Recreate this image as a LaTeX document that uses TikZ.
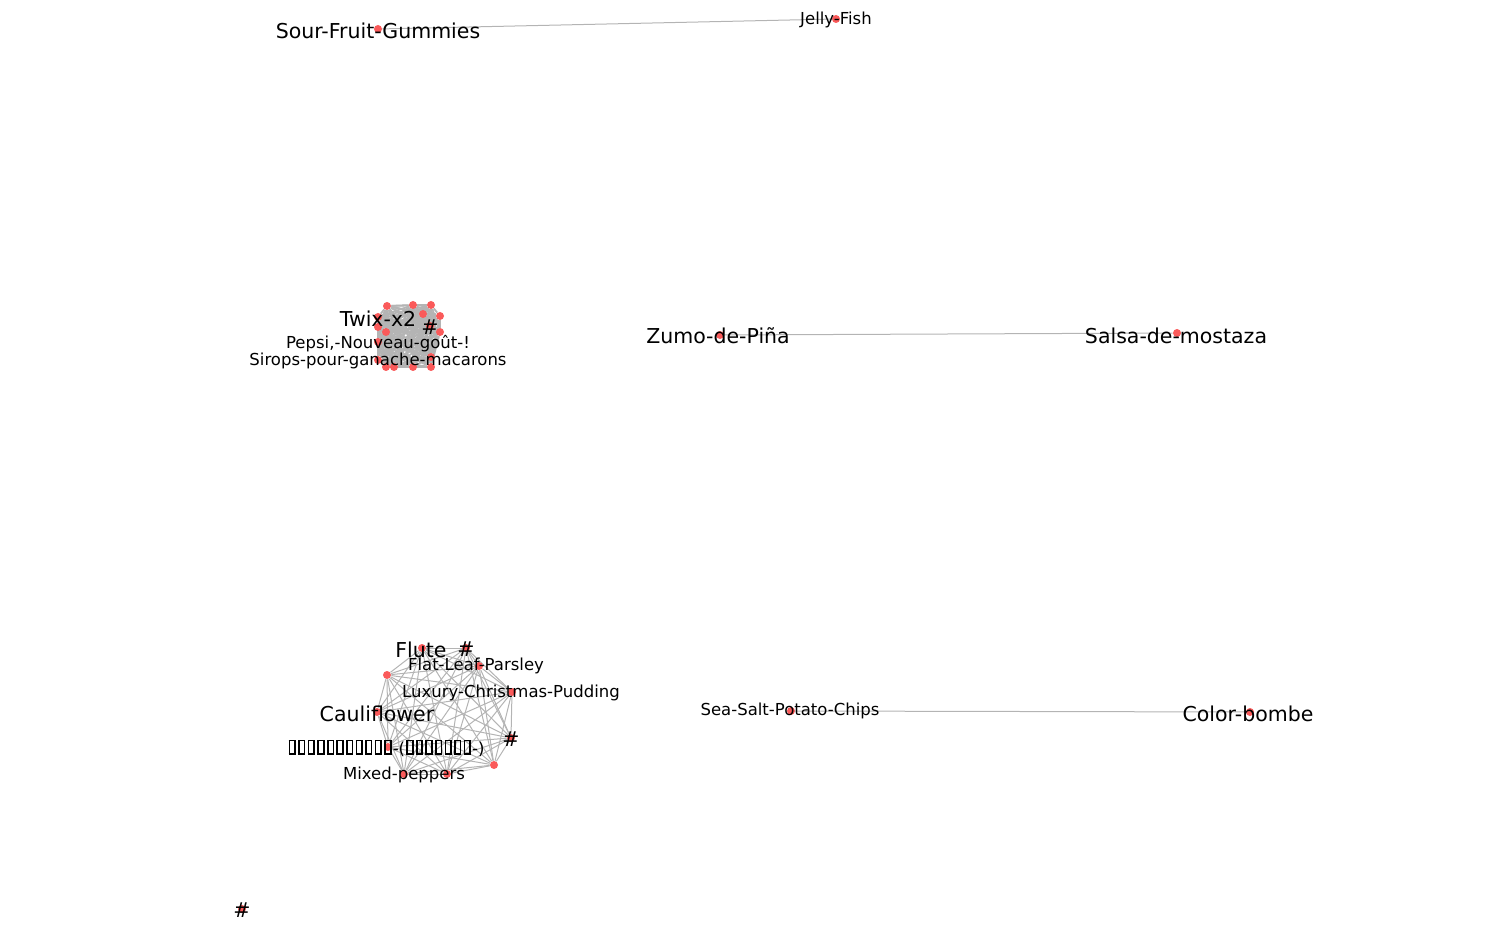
\documentclass[tikz,border=0pt]{standalone}
\usepackage{fontspec}
\setmainfont{DejaVu Sans}
\definecolor{dotred}{RGB}{250,90,90}
\definecolor{linkgray}{RGB}{180,180,180}
\pgfdeclarelayer{background}
\pgfsetlayers{background,main}
\newcommand{\tofubox}{\kern0.07em\vbox{\hrule height0.1em\hbox{\vrule width0.1em height0.72em\kern0.24em\vrule width0.1em}\hrule height0.1em}\kern0.07em}
\tikzset{
	dot/.style={circle,fill=dotred,inner sep=0pt,minimum size=4pt},
	link/.style={draw=linkgray,line width=0.5pt},
	thicklink/.style={draw=linkgray,line width=0.9pt},
	biglbl/.style={inner sep=0pt,yshift=-0.7pt,font=\fontsize{10.25}{12}\selectfont},
	smalllbl/.style={inner sep=0pt,yshift=-0.7pt,font=\fontsize{8.25}{10}\selectfont}
}

\begin{document}
\begin{tikzpicture}[x=0.5pt,y=-0.5pt]
 	\useasboundingbox (0,0) rectangle (1492,929);

 	% pairs
 	\node[dot] (sour) at (378,29) {};
 	\node[dot] (jelly) at (836,19) {};
 	\node[dot] (zumo) at (720,335) {};
 	\node[dot] (salsa) at (1177,333) {};
 	\node[dot] (seasalt) at (791,711) {};
 	\node[dot] (bombe) at (1250,712) {};
 	\node[dot] (lone) at (242,909) {};

 	% twix group
 	\node[dot] (t1) at (387,306) {};
 	\node[dot] (t2) at (413,305) {};
 	\node[dot] (t3) at (431,305) {};
 	\node[dot] (t4) at (423,314) {};
 	\node[dot] (t5) at (440,316) {};
 	\node[dot] (t6) at (378,327) {};
 	\node[dot] (t7) at (440,332) {};
 	\node[dot] (t8) at (386,332) {};
 	\node[dot] (t9) at (386,367) {};
 	\node[dot] (t10) at (394,367) {};
 	\node[dot] (t11) at (413,367) {};
 	\node[dot] (t12) at (431,367) {};
 	\node[dot] (t13) at (431,357) {};
 	\node[dot] (twix) at (378,317) {};
 	\node[dot] (pepsi) at (378,342) {};
 	\node[dot] (sirops) at (378,360) {};
 	\node[dot] (hasha) at (430,326) {};

 	% cauliflower group
 	\node[dot] (flute) at (422,648) {};
 	\node[dot] (hashb) at (466,648) {};
 	\node[dot] (parsley) at (479,666) {};
 	\node[dot] (c1) at (387,675) {};
 	\node[dot] (pudding) at (512,692) {};
 	\node[dot] (cauli) at (377,712) {};
 	\node[dot] (hashc) at (511,738) {};
 	\node[dot] (boxes) at (388,747) {};
 	\node[dot] (c2) at (494,765) {};
 	\node[dot] (peppers) at (404,774) {};
 	\node[dot] (c3) at (447,774) {};

 	\begin{pgfonlayer}{background}
 	\draw[link] (sour) -- (jelly);
 	\draw[link] (zumo) -- (salsa);
 	\draw[link] (seasalt) -- (bombe);
 	\foreach \u [count=\i] in {t1,t2,t3,t4,t5,t6,t7,t8,t9,t10,t11,t12,t13,twix,pepsi,sirops,hasha}{
 		\foreach \v [count=\j] in {t1,t2,t3,t4,t5,t6,t7,t8,t9,t10,t11,t12,t13,twix,pepsi,sirops,hasha}{
 			\ifnum\i<\j \draw[thicklink] (\u) -- (\v); \fi
 		}
 	}
 	\foreach \u [count=\i] in {flute,hashb,parsley,c1,pudding,cauli,hashc,boxes,c2,peppers,c3}{
 		\foreach \v [count=\j] in {flute,hashb,parsley,c1,pudding,cauli,hashc,boxes,c2,peppers,c3}{
 			\ifnum\i<\j \draw[link] (\u) -- (\v); \fi
 		}
 	}
 	\end{pgfonlayer}

 	% labels
 	\node[biglbl] (sour-l) at (sour) {Sour-Fruit-Gummies};
 	\node[smalllbl] (jelly-l) at (jelly) {Jelly-Fish};
 	\node[biglbl] (zumo-l) at (718,334) {Zumo-de-Piña};
 	\node[biglbl] (salsa-l) at (1176,334) {Salsa-de-mostaza};
 	\node[smalllbl] (seasalt-l) at (790,710) {Sea-Salt-Potato-Chips};
 	\node[biglbl] (bombe-l) at (1248,712) {Color-bombe};
 	\node[biglbl] (lone-l) at (lone) {\#};
 	\node[biglbl] (twix-l) at (twix) {Twix-x2};
 	\node[smalllbl] (pepsi-l) at (pepsi) {Pepsi,-Nouveau-goût-!};
 	\node[smalllbl] (sirops-l) at (sirops) {Sirops-pour-ganache-macarons};
 	\node[biglbl] (hasha-l) at (hasha) {\#};
 	\node[biglbl] (flute-l) at (421,648) {Flute};
 	\node[biglbl] (hashb-l) at (hashb) {\#};
 	\node[smalllbl] (parsley-l) at (476,665) {Flat-Leaf-Parsley};
 	\node[smalllbl] (pudding-l) at (511,692) {Luxury-Christmas-Pudding};
 	\node[biglbl] (cauli-l) at (cauli) {Cauliflower};
 	\node[biglbl] (hashc-l) at (hashc) {\#};
 	\node[smalllbl] (boxes-l) at (386,747) {\tofubox\tofubox\tofubox\tofubox\tofubox\tofubox\tofubox\tofubox\tofubox\tofubox\tofubox-(\tofubox\tofubox\tofubox\tofubox\tofubox\tofubox\tofubox-)};
 	\node[smalllbl] (peppers-l) at (peppers) {Mixed-peppers};
\end{tikzpicture}
\end{document}
